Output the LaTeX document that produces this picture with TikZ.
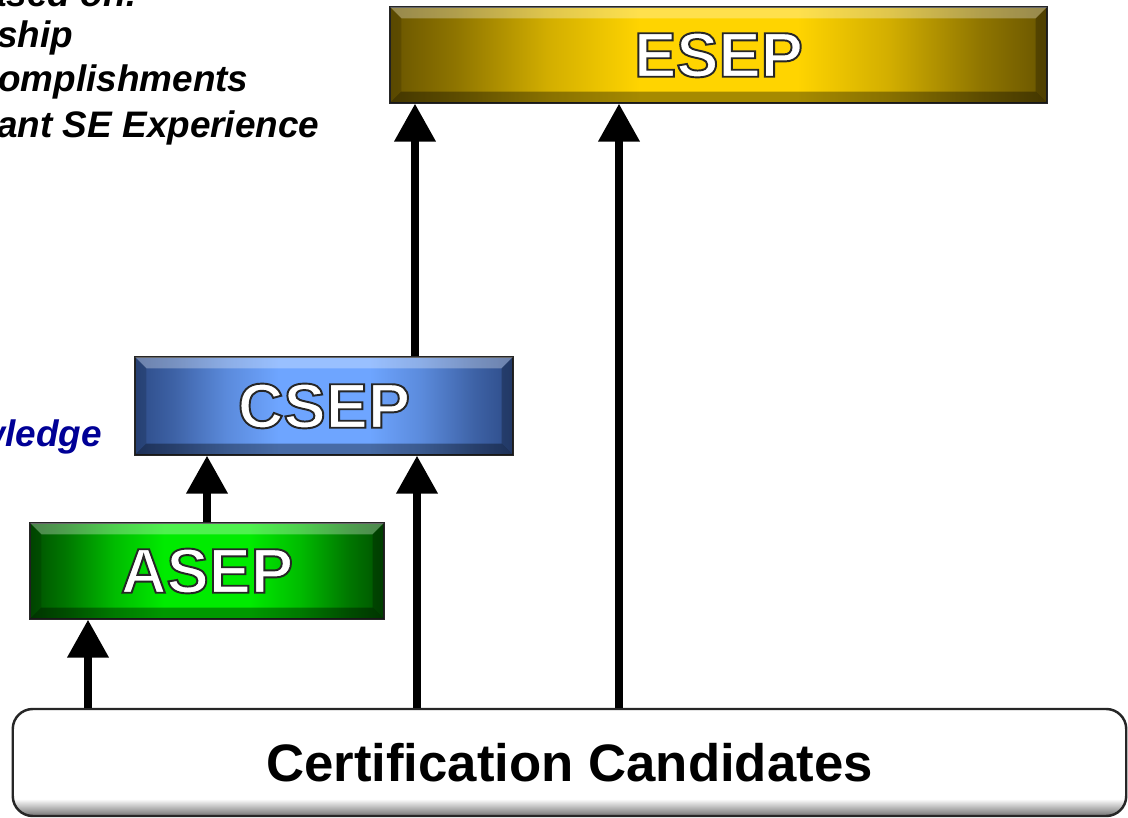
\documentclass[tikz,border=0pt]{standalone}
\usepackage{fontspec}
\setmainfont{Liberation Sans}
\usetikzlibrary{arrows.meta}
\definecolor{golddark}{RGB}{105,85,0}
\definecolor{goldlight}{RGB}{255,212,0}
\definecolor{bluedark}{RGB}{45,75,135}
\definecolor{bluelight}{RGB}{110,165,255}
\definecolor{greendark}{RGB}{0,80,0}
\definecolor{greenlight}{RGB}{0,235,0}
\definecolor{knowblue}{RGB}{0,0,150}
% outlined white lettering
\newcommand{\outlined}[1]{\special{pdf:literal direct 2 Tr 1.1 w 0.15 G}#1\special{pdf:literal direct 0 Tr}}
\newcommand{\levelshade}[3]{\pgfdeclarehorizontalshading{#1}{100bp}{color(0bp)=(#2); color(25bp)=(#2);
  color(30bp)=(#2!75!#3); color(37bp)=(#2!30!#3); color(44bp)=(#3); color(56bp)=(#3);
  color(63bp)=(#2!30!#3); color(70bp)=(#2!75!#3); color(75bp)=(#2); color(100bp)=(#2)}}
\levelshade{goldshade}{golddark}{goldlight}
\levelshade{blueshade}{bluedark}{bluelight}
\levelshade{greenshade}{greendark}{greenlight}
\pgfdeclareverticalshading{candshade}{100bp}{color(0bp)=(black!55); color(25bp)=(black!55); color(33bp)=(white); color(100bp)=(white)}
\tikzset{
  level/.style={draw=black!85, line width=0.8pt, inner sep=0pt, minimum height=1.92cm,
    text=white, font=\fontsize{36}{40}\selectfont\bfseries},
  up/.style={-{Triangle[width=0.8cm,length=0.76cm]}, line width=0.15cm},
  bullet/.style={anchor=base west, inner sep=0pt, font=\fontsize{21}{25}\selectfont\bfseries\itshape}
}
\begin{document}
\begin{tikzpicture}
\useasboundingbox (0,0) rectangle (22.56,16.36);
\clip (0,0) rectangle (22.56,16.36);
% criteria text on the left
\node[bullet] (basis) at (-0.28,16.22) {ased on:};
\node[bullet] (lead) at (-0.06,15.4) {ship};
\node[bullet] (acc) at (-0.04,14.52) {omplishments};
\node[bullet] (exp) at (-0.06,13.6) {ant SE Experience};
\node[bullet, anchor=base east, text=knowblue] (know) at (2.04,7.42) {wledge};
% the three levels
\node[level, minimum width=13.14cm, shading=goldshade] (esep) at (14.37,15.26) {\outlined{ESEP}};
\node[level, minimum width=7.56cm, minimum height=1.96cm, shading=blueshade] (csep) at (6.48,8.24) {\outlined{CSEP}};
\node[level, minimum width=7.08cm, shading=greenshade] (asep) at (4.14,4.94) {\outlined{ASEP}};
% bevelled edges
\foreach \b in {esep,csep,asep}{
  \fill[white,opacity=.3] (\b.north west) -- (\b.north east) -- ([shift={(-.24,-.24)}]\b.north east) -- ([shift={(.24,-.24)}]\b.north west) -- cycle;
  \fill[black,opacity=.35] (\b.south west) -- (\b.south east) -- ([shift={(-.24,.24)}]\b.south east) -- ([shift={(.24,.24)}]\b.south west) -- cycle;
  \fill[black,opacity=.15] (\b.north west) -- ([shift={(.24,-.24)}]\b.north west) -- ([shift={(.24,.24)}]\b.south west) -- (\b.south west) -- cycle;
  \fill[black,opacity=.25] (\b.north east) -- ([shift={(-.24,-.24)}]\b.north east) -- ([shift={(-.24,.24)}]\b.south east) -- (\b.south east) -- cycle;
  \draw[black!85, line width=0.8pt] (\b.south west) rectangle (\b.north east);
}
% candidates
\node[draw=black!85, line width=1.4pt, rounded corners=0.4cm, shading=candshade, minimum width=22.27cm,
  minimum height=2.14cm, font=\fontsize{30}{34}\selectfont\bfseries] (cand) at (11.39,1.11) {Certification Candidates};
% arrows
\coordinate (xa) at (1.76,0);
\coordinate (xb) at (4.14,0);
\coordinate (xc) at (8.34,0);
\coordinate (xd) at (8.3,0);
\coordinate (xe) at (12.38,0);
\draw[up] (cand.north -| xa) -- (asep.south -| xa);
\draw[up] (asep.north -| xb) -- (csep.south -| xb);
\draw[up] (cand.north -| xc) -- (csep.south -| xc);
\draw[up] (csep.north -| xd) -- (esep.south -| xd);
\draw[up] (cand.north -| xe) -- (esep.south -| xe);
\end{tikzpicture}
\end{document}
